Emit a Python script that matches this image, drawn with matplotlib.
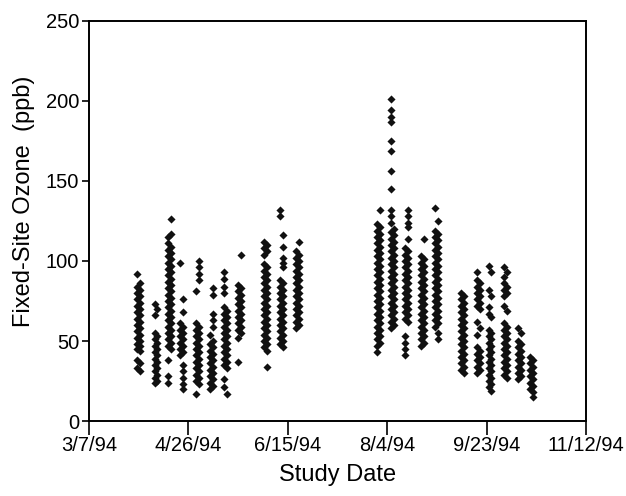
import matplotlib
matplotlib.use('Agg')
import matplotlib.pyplot as plt

plt.rcParams['font.family'] = ['Liberation Sans', 'DejaVu Sans']

# study day (days after 3/7/94) and the ozone readings (ppb) taken on it
days = [24, 25.5, 33, 34.5, 40, 41.5, 46, 47.5, 54, 55.5, 61, 62.5, 68, 69.5, 75, 76.5,
        88, 89.5, 96, 97.5, 104, 105.5,
        145, 146.5, 152, 153.5, 159, 160.5, 167, 168.5, 174, 175.5,
        187, 188.5, 195, 196.5, 201, 202.5, 209, 210.5, 216, 217.5, 222, 223.5]

ozone = [
    [92, 84, 80, 76, 72, 68, 64, 60, 56, 52, 48, 45, 38, 33],
    [86, 82, 78, 74, 70, 66, 62, 58, 54, 50, 47, 44, 36, 31],
    [73, 66, 55, 51, 47, 43, 39, 35, 31, 27, 24],
    [70, 53, 49, 45, 41, 37, 33, 29, 25],
    [115, 111, 107, 103, 99, 95, 91, 87, 83, 79, 75, 71, 67, 63, 59, 55, 51, 47, 38, 28, 24],
    [126, 117, 109, 105, 101, 97, 93, 89, 85, 81, 77, 73, 69, 65, 61, 57, 53, 49, 45],
    [99, 61, 57, 53, 49, 45, 41],
    [76, 68, 59, 55, 51, 47, 43, 35, 31, 27, 23, 20],
    [81, 61, 57, 53, 49, 45, 41, 37, 33, 29, 25, 17],
    [100, 96, 92, 88, 59, 55, 51, 47, 43, 39, 35, 31, 27, 23],
    [54, 48, 44, 40, 36, 32, 28, 24, 20],
    [83, 79, 67, 63, 59, 50, 46, 42, 38, 34, 30, 26, 22],
    [93, 89, 84, 80, 71, 67, 63, 59, 55, 51, 47, 43, 39, 35, 26, 21],
    [69, 65, 61, 57, 53, 49, 45, 41, 37, 33, 17],
    [85, 81, 77, 73, 69, 65, 61, 57, 52, 37],
    [104, 83, 79, 75, 71, 67, 63, 59, 55],
    [112, 108, 104, 98, 94, 90, 86, 82, 78, 74, 70, 66, 62, 58, 54, 50, 46],
    [110, 106, 96, 92, 88, 84, 80, 76, 72, 68, 64, 60, 56, 52, 48, 44, 34],
    [132, 128, 88, 84, 80, 76, 72, 68, 64, 60, 56, 52, 48],
    [116, 109, 102, 99, 96, 86, 82, 78, 74, 70, 66, 62, 58, 54, 50, 46],
    [106, 102, 98, 94, 90, 86, 82, 78, 74, 70, 66, 62, 58],
    [112, 104, 100, 96, 92, 88, 84, 80, 76, 72, 68, 64, 60],
    [123, 119, 115, 111, 107, 103, 99, 95, 91, 87, 83, 79, 75, 71, 67, 63, 59, 55, 51, 47, 43],
    [132, 121, 117, 113, 109, 105, 101, 97, 93, 89, 85, 81, 77, 73, 69, 65, 61, 57, 53, 49],
    [201, 194, 190, 187, 175, 169, 156, 145, 132, 128, 124, 118, 114, 110, 106, 102, 98, 94,
     90, 86, 82, 78, 74, 70, 66, 62, 58],
    [120, 116, 112, 108, 104, 100, 96, 92, 88, 84, 80, 76, 72, 68, 64, 60],
    [108, 104, 100, 96, 92, 88, 84, 80, 76, 72, 68, 64, 53, 49, 45, 41],
    [132, 128, 124, 121, 114, 106, 102, 98, 94, 90, 86, 82, 78, 74, 70, 66, 62],
    [103, 99, 95, 91, 87, 83, 79, 75, 71, 67, 63, 59, 55, 51, 47],
    [114, 101, 97, 93, 89, 85, 81, 77, 73, 69, 65, 61, 57, 53, 49],
    [133, 119, 115, 111, 107, 103, 99, 95, 91, 87, 83, 79, 75, 71, 67, 63, 59],
    [125, 117, 113, 109, 105, 101, 97, 93, 89, 85, 81, 77, 73, 69, 65, 61, 55, 51],
    [80, 76, 72, 68, 64, 60, 56, 52, 48, 44, 40, 36, 32],
    [78, 74, 70, 66, 62, 58, 54, 50, 46, 42, 38, 34, 30],
    [93, 88, 84, 80, 76, 72, 62, 54, 46, 42, 38, 34, 30],
    [86, 82, 78, 74, 70, 58, 44, 40, 36, 32],
    [97, 82, 71, 67, 57, 53, 49, 45, 41, 37, 33, 29, 25, 21],
    [93, 78, 65, 55, 51, 47, 43, 39, 35, 31, 27, 23, 19],
    [96, 90, 86, 82, 78, 72, 61, 57, 53, 49, 45, 41, 37, 33, 29],
    [93, 84, 80, 69, 59, 55, 51, 47, 43, 39, 35, 31, 27],
    [58, 50, 46, 42, 38, 34, 30, 26],
    [55, 48, 44, 40, 36, 32, 28],
    [40, 36, 32, 28, 24, 20],
    [38, 34, 30, 26, 22, 18, 15],
]

tick_days = [0, 50, 100, 150, 200, 250]
tick_labels = ['3/7/94', '4/26/94', '6/15/94', '8/4/94', '9/23/94', '11/12/94']

x = []
y = []
for d, vals in zip(days, ozone):
    x += [d] * len(vals)
    y += vals

fig = plt.figure(figsize=(6.26, 4.96), dpi=100)
ax = fig.add_axes([0.142, 0.151, 0.794, 0.807])
ax.scatter(x, y, marker='D', s=17, color='#111111', linewidths=0)

ax.set_xlim(0, 250)
ax.set_ylim(0, 250)
ax.set_xticks(tick_days)
ax.set_xticklabels(tick_labels)
ax.set_yticks([0, 50, 100, 150, 200, 250])

for s in ax.spines.values():
    s.set_linewidth(1.4)
ax.tick_params(axis='x', direction='out', length=10, width=1.2, labelsize=14.5, pad=1)
ax.tick_params(axis='y', direction='out', length=5, width=1.2, labelsize=14.5, pad=2)

ax.set_xlabel('Study Date', fontsize=17, labelpad=6)
ax.set_ylabel('Fixed-Site Ozone  (ppb)', fontsize=17, labelpad=6)
ax.yaxis.set_label_coords(-0.108, 0.55)

fig.savefig('out.png', dpi=100)
